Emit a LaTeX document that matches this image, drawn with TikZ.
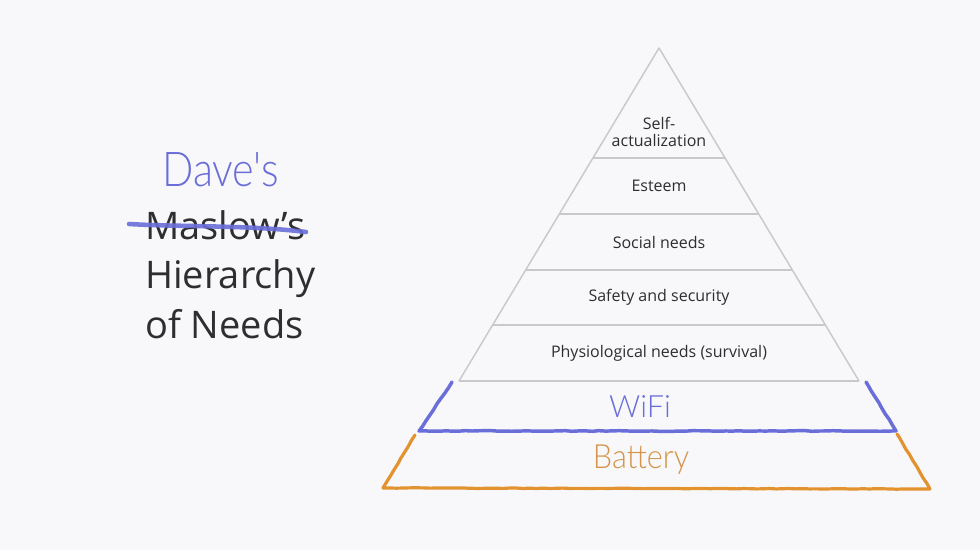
\documentclass[tikz,border=0pt]{standalone}
\usepackage{fontspec}
\setmainfont{Open Sans}
\newfontfamily\hand{Lato Light}
\usetikzlibrary{decorations.pathmorphing}
\definecolor{bg}{HTML}{F8F8FA}
\definecolor{txt}{HTML}{2E2E31}
\definecolor{edge}{HTML}{C9C9CC}
\definecolor{wifiblue}{HTML}{6A6ED8}
\definecolor{battorange}{HTML}{E39230}
\definecolor{batttext}{HTML}{D4944A}
\tikzset{
  px/.style={x=0.75pt,y=-0.75pt},
  levellabel/.style={font=\fontsize{12}{14}\selectfont, text=txt, align=center, inner sep=0pt},
  titletext/.style={font=\fontsize{28.5}{37.5}\selectfont, text=txt, anchor=base west, inner sep=0pt},
  grey/.style={draw=edge, line width=1.1pt},
  wifiline/.style={draw=wifiblue, line width=2.6pt, line cap=round, line join=round},
  battline/.style={draw=battorange, line width=2.4pt, line cap=round, line join=round},
}
\begin{document}
\begin{tikzpicture}[px]
\fill[bg] (0,0) rectangle (980,550);
\useasboundingbox (0,0) rectangle (980,550);
% pyramid outline
\coordinate (apex) at (659,48);
\coordinate (l381) at (459,381);
\coordinate (r381) at (859,381);
\draw[grey, line join=round] (l381) -- (apex) -- (r381);
\foreach \y/\n in {158/a,214/b,270/c,325/d,381/e}{
  \pgfmathsetmacro{\hw}{0.6*(\y-48)}
  \coordinate (L\n) at ({659-\hw},\y);
  \coordinate (R\n) at ({659+\hw},\y);
  \draw[grey] (L\n) -- (R\n);
}
% level labels
\node[levellabel] (self) at (659,132) {Self-\\[-1pt]actualization};
\node[levellabel] (est) at (659,186) {Esteem};
\node[levellabel] (soc) at (659,242) {Social needs};
\node[levellabel] (safe) at (659,297) {Safety and security};
\node[levellabel] (phys) at (659,353) {Physiological needs (survival)};
% WiFi band
\coordinate (wtl) at (452,382);
\coordinate (wbl) at (419,431);
\coordinate (wbr) at (896,431);
\coordinate (wtr) at (866,382);
\draw[wifiline, decorate, decoration={random steps, segment length=5pt, amplitude=0.25pt}] (wtl) -- (wbl) -- (wbr) -- (wtr);
\node[font=\hand\fontsize{23}{24}\selectfont, text=wifiblue] (wifi) at (640,407) {WiFi};
% Battery band
\coordinate (btl) at (415,435);
\coordinate (bbl) at (383,488);
\coordinate (bbr) at (930,489);
\coordinate (btr) at (897,434);
\draw[battline, decorate, decoration={random steps, segment length=5pt, amplitude=0.2pt}] (btl) -- (bbl) -- (bbr) -- (btr);
\node[font=\hand\fontsize{25}{28}\selectfont, text=batttext, xscale=0.92] (batt) at (641,460) {Battery};
% title
\node[font=\hand\fontsize{36}{40}\selectfont, text=wifiblue, anchor=base west, inner sep=0pt, xscale=0.86] (dave) at (162,186) {Dave's};
\node[titletext] (maslow) at (145,239) {Maslow’s};
\node[titletext] (hier) at (145,288) {Hierarchy};
\node[titletext] (needs) at (145,338) {of Needs};
\coordinate (s1) at (129,224);
\coordinate (s2) at (306,232);
\draw[draw=wifiblue, line width=3.4pt, line cap=round, opacity=0.9] (s1) .. controls (180,227) and (250,225) .. (s2);
\end{tikzpicture}
\end{document}
